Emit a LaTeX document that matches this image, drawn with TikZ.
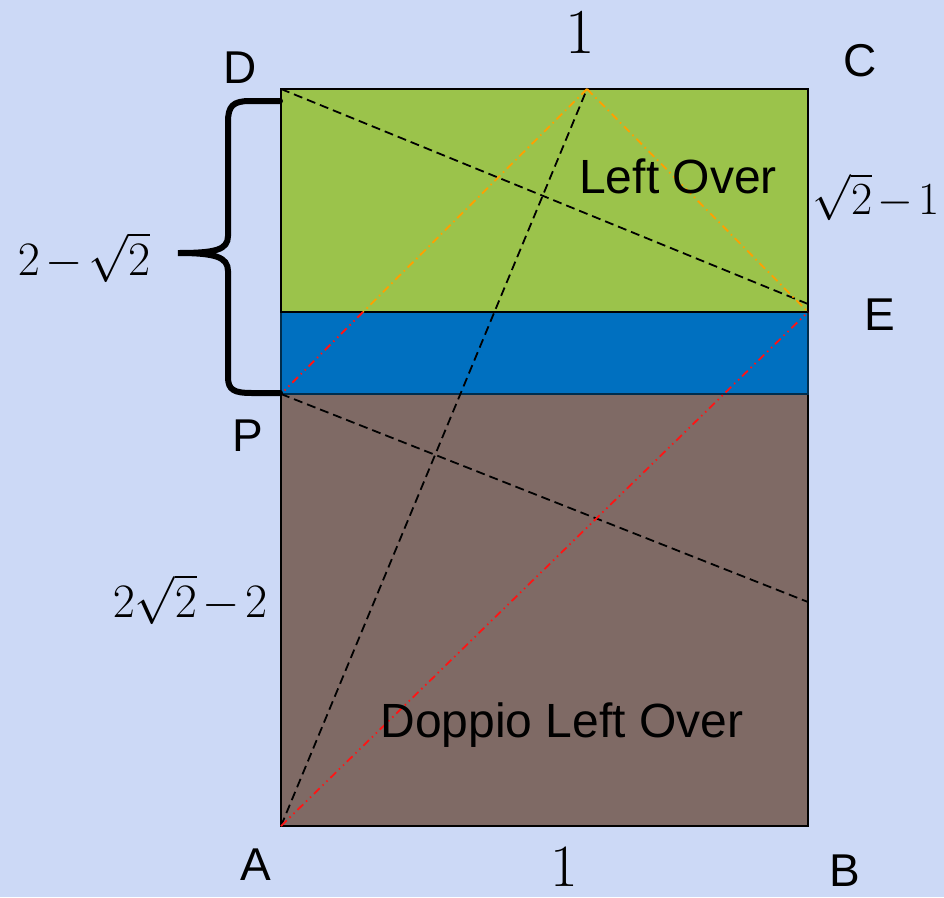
\RequirePackage{fix-cm}
\documentclass[tikz,border=0pt]{standalone}
\usepackage{fontspec}
\setsansfont{Liberation Sans}
\definecolor{bgc}{RGB}{204,217,246}
\definecolor{greenc}{RGB}{155,195,75}
\definecolor{bluec}{RGB}{0,112,192}
\definecolor{brownc}{RGB}{127,106,101}
\definecolor{orangec}{RGB}{255,160,0}
\definecolor{redc}{RGB}{255,20,20}
\tikzset{
  ptlabel/.style={font=\fontsize{46}{46}\selectfont\sffamily, inner sep=0pt},
  regionlabel/.style={font=\fontsize{48}{48}\selectfont\sffamily, inner sep=0pt},
  mathlabel/.style={inner sep=0pt, anchor=base},
  blackdash/.style={black, line width=1.8pt, dash pattern=on 9pt off 5pt},
  orangedash/.style={orangec, line width=1.8pt, dash pattern=on 8pt off 4pt on 1.5pt off 4pt},
  reddash/.style={redc, line width=1.8pt, dash pattern=on 8pt off 4pt on 1.5pt off 4pt on 1.5pt off 4pt},
  bracestyle/.style={black, line width=6pt, line cap=round}
}
\begin{document}
\begin{tikzpicture}[x=1pt,y=-1pt]
\useasboundingbox (0,0) rectangle (944,897);
\fill[bgc] (0,0) rectangle (944,897);
% corner coordinates
\coordinate (A) at (281,826);
\coordinate (B) at (808,826);
\coordinate (C) at (808,89);
\coordinate (D) at (281,89);
\coordinate (E) at (808,312);
\coordinate (P) at (281,394);
\coordinate (F) at (808,602);
\coordinate (G) at (587,89);
\coordinate (Q) at (363,312);
\coordinate (DE) at (808,304);
\coordinate (EL) at (281,312);
\coordinate (PR) at (808,394);
% regions
\draw[fill=brownc, draw=black, line width=1.8pt] (P) rectangle (B);
\draw[fill=bluec, draw=black!60!bluec, line width=1.8pt] (EL) rectangle (PR);
\draw[fill=greenc, draw=black, line width=1.8pt] (D) rectangle (E);
% folding lines
\draw[blackdash] (D) -- (DE);
\draw[blackdash] (P) -- (F);
\draw[blackdash] (A) -- (G);
\draw[orangedash] (G) -- (E);
\draw[orangedash] (G) -- (Q);
\draw[reddash] (Q) -- (P);
\draw[reddash] (A) -- (E);
% brace
\draw[bracestyle] (280,101) -- (250,101) .. controls (233,101) and (228,106) .. (228,122)
  -- (228,236) .. controls (228,250) and (215,253) .. (178,253)
  .. controls (215,253) and (228,257) .. (228,271)
  -- (228,377) .. controls (228,390) and (234,393) .. (252,393) -- (280,393);
% point labels
\node[ptlabel] (lD) at (240,68) {D};
\node[ptlabel] (lC) at (860,61) {C};
\node[ptlabel] (lE) at (880,315) {E};
\node[ptlabel] (lP) at (248,436) {P};
\node[ptlabel] (lA) at (256,865) {A};
\node[ptlabel] (lB) at (845,871) {B};
% region labels
\node[regionlabel] (lo) at (678,176) {Left Over};
\node[regionlabel, anchor=base] (dlo) at (562,737) {Doppio Left Over};
% measures
\node[mathlabel, font=\fontsize{64}{64}\selectfont] (top1) at (580,53) {$1$};
\node[mathlabel, font=\fontsize{60}{60}\selectfont] (bot1) at (564,886) {$1$};
\node[mathlabel, font=\fontsize{48}{48}\selectfont] (m1) at (84,275) {$\medmuskip=2mu 2-\sqrt{2}$};
\node[mathlabel, font=\fontsize{46}{46}\selectfont] (m2) at (876,214) {$\medmuskip=2mu \sqrt{2}-1$};
\node[mathlabel, font=\fontsize{48}{48}\selectfont] (m3) at (190,617) {$\medmuskip=2mu 2\sqrt{2}-2$};
\end{tikzpicture}
\end{document}
